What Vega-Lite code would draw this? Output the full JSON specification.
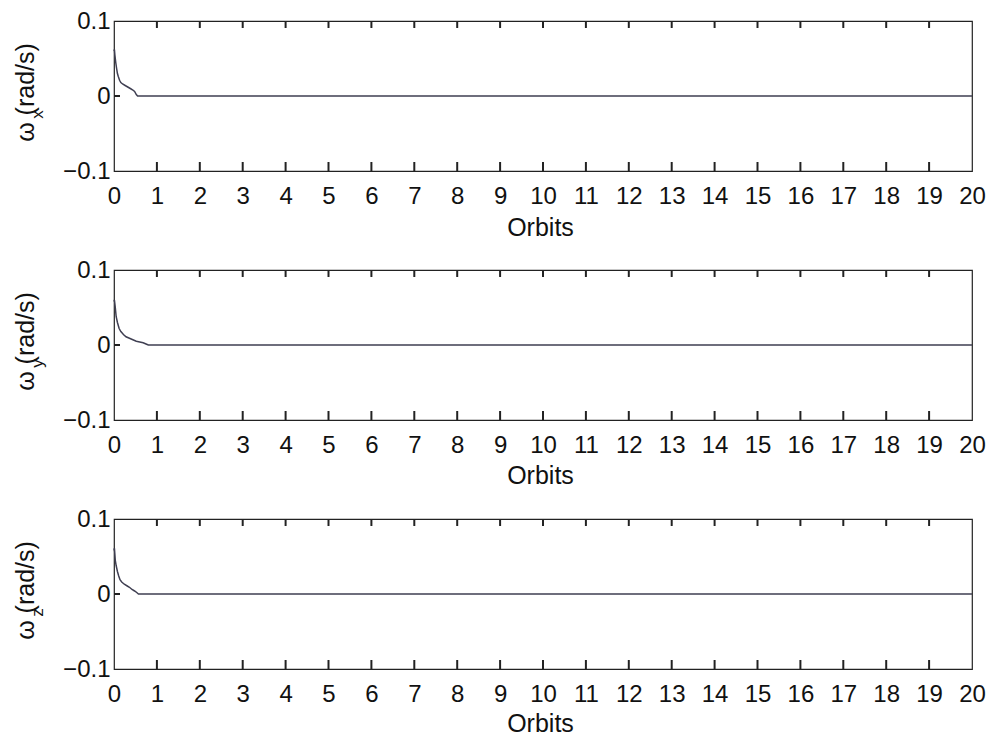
{
  "$schema": "https://vega.github.io/schema/vega-lite/v6.json",
  "background": "white",
  "padding": {"left": 12, "top": 8, "right": 5, "bottom": 2},
  "spacing": 99,
  "bounds": "flush",
  "config": {
    "view": {"stroke": "#222222", "strokeWidth": 1.2},
    "font": "Liberation Sans",
    "rule": {"color": "#222222", "strokeWidth": 2, "opacity": 1},
    "title": {"font": "Liberation Sans", "fontSize": 17, "fontWeight": "normal", "color": "#111111"},
    "axis": {
      "grid": false,
      "domain": false,
      "ticks": false,
      "labelFont": "Liberation Sans",
      "titleFont": "Liberation Sans",
      "labelColor": "#111111",
      "titleColor": "#111111",
      "labelFontSize": 24,
      "titleFontSize": 25,
      "titleFontWeight": "normal"
    }
  },
  "datasets": {
    "xt": [
      {"orbit": 1}, {"orbit": 2}, {"orbit": 3}, {"orbit": 4}, {"orbit": 5}, {"orbit": 6}, {"orbit": 7},
      {"orbit": 8}, {"orbit": 9}, {"orbit": 10}, {"orbit": 11}, {"orbit": 12}, {"orbit": 13},
      {"orbit": 14}, {"orbit": 15}, {"orbit": 16}, {"orbit": 17}, {"orbit": 18}, {"orbit": 19}
    ],
    "yt": [{"w": 0}],
    "wx": [
      {"orbit": 0, "w": 0.060}, {"orbit": 0.01, "w": 0.062}, {"orbit": 0.02, "w": 0.055},
      {"orbit": 0.04, "w": 0.045}, {"orbit": 0.06, "w": 0.037}, {"orbit": 0.08, "w": 0.030},
      {"orbit": 0.10, "w": 0.026}, {"orbit": 0.13, "w": 0.021}, {"orbit": 0.16, "w": 0.018},
      {"orbit": 0.20, "w": 0.016}, {"orbit": 0.26, "w": 0.014}, {"orbit": 0.32, "w": 0.012},
      {"orbit": 0.38, "w": 0.010}, {"orbit": 0.44, "w": 0.008}, {"orbit": 0.48, "w": 0.006},
      {"orbit": 0.52, "w": 0.002}, {"orbit": 0.55, "w": 0}, {"orbit": 20, "w": 0}
    ],
    "wy": [
      {"orbit": 0, "w": 0.058}, {"orbit": 0.01, "w": 0.060}, {"orbit": 0.03, "w": 0.050},
      {"orbit": 0.05, "w": 0.038}, {"orbit": 0.08, "w": 0.030}, {"orbit": 0.12, "w": 0.022},
      {"orbit": 0.16, "w": 0.018}, {"orbit": 0.22, "w": 0.014}, {"orbit": 0.28, "w": 0.011},
      {"orbit": 0.36, "w": 0.009}, {"orbit": 0.44, "w": 0.007}, {"orbit": 0.52, "w": 0.005},
      {"orbit": 0.60, "w": 0.004}, {"orbit": 0.68, "w": 0.003}, {"orbit": 0.76, "w": 0.001},
      {"orbit": 0.80, "w": 0}, {"orbit": 20, "w": 0}
    ],
    "wz": [
      {"orbit": 0, "w": 0.058}, {"orbit": 0.01, "w": 0.061}, {"orbit": 0.03, "w": 0.045},
      {"orbit": 0.05, "w": 0.038}, {"orbit": 0.08, "w": 0.030}, {"orbit": 0.11, "w": 0.024},
      {"orbit": 0.14, "w": 0.019}, {"orbit": 0.18, "w": 0.016}, {"orbit": 0.24, "w": 0.013},
      {"orbit": 0.30, "w": 0.011}, {"orbit": 0.36, "w": 0.009}, {"orbit": 0.42, "w": 0.006},
      {"orbit": 0.48, "w": 0.004}, {"orbit": 0.53, "w": 0.002}, {"orbit": 0.57, "w": 0},
      {"orbit": 20, "w": 0}
    ]
  },
  "vconcat": [
    {
      "width": 858, "height": 150,
      "title": {"text": "x", "orient": "top", "anchor": "start", "frame": "group", "offset": 0, "angle": -90, "align": "center", "baseline": "middle", "dx": -114, "dy": -76},
      "data": {"name": "wx"},
      "layer": [
        {
          "mark": {"type": "line", "color": "#3f3f52", "strokeWidth": 1.5},
          "encoding": {
            "x": {"field": "orbit", "type": "quantitative", "scale": {"domain": [0, 20], "nice": false},
              "axis": {"orient": "bottom", "values": [0,1,2,3,4,5,6,7,8,9,10,11,12,13,14,15,16,17,18,19,20], "format": "d",
                "labelPadding": 32, "labelBaseline": "alphabetic", "labelFlush": false,
                "title": "Orbits", "titleBaseline": "alphabetic", "titleAlign": "center", "titleX": 426, "titleY": 64}},
            "y": {"field": "w", "type": "quantitative", "scale": {"domain": [-0.1, 0.1], "nice": false},
              "axis": {"orient": "left", "values": [-0.1, 0, 0.1], "format": "~g",
                "labelPadding": 4, "labelBaseline": "middle", "labelFlush": false,
                "title": "ω (rad/s)", "titleAngle": -90, "titleX": -89, "titleY": 71, "titleAlign": "center", "titleBaseline": "middle"}}
          }
        },
        {
          "data": {"name": "xt"},
          "mark": {"type": "rule"},
          "encoding": {
            "x": {"field": "orbit", "type": "quantitative"},
            "y": {"datum": 0.1, "type": "quantitative"},
            "y2": {"datum": 0.0907}
          }
        },
        {
          "data": {"name": "xt"},
          "mark": {"type": "rule"},
          "encoding": {
            "x": {"field": "orbit", "type": "quantitative"},
            "y": {"datum": -0.1, "type": "quantitative"},
            "y2": {"datum": -0.088}
          }
        },
        {
          "data": {"name": "yt"},
          "mark": {"type": "rule"},
          "encoding": {
            "x": {"datum": 0, "type": "quantitative"},
            "x2": {"datum": 0.14},
            "y": {"field": "w", "type": "quantitative"}
          }
        }
      ]
    },
    {
      "width": 858, "height": 150,
      "title": {"text": "y", "orient": "top", "anchor": "start", "frame": "group", "offset": 0, "angle": -90, "align": "center", "baseline": "middle", "dx": -114, "dy": -76},
      "data": {"name": "wy"},
      "layer": [
        {
          "mark": {"type": "line", "color": "#3f3f52", "strokeWidth": 1.5},
          "encoding": {
            "x": {"field": "orbit", "type": "quantitative", "scale": {"domain": [0, 20], "nice": false},
              "axis": {"orient": "bottom", "values": [0,1,2,3,4,5,6,7,8,9,10,11,12,13,14,15,16,17,18,19,20], "format": "d",
                "labelPadding": 32, "labelBaseline": "alphabetic", "labelFlush": false,
                "title": "Orbits", "titleBaseline": "alphabetic", "titleAlign": "center", "titleX": 426, "titleY": 63}},
            "y": {"field": "w", "type": "quantitative", "scale": {"domain": [-0.1, 0.1], "nice": false},
              "axis": {"orient": "left", "values": [-0.1, 0, 0.1], "format": "~g",
                "labelPadding": 4, "labelBaseline": "middle", "labelFlush": false,
                "title": "ω (rad/s)", "titleAngle": -90, "titleX": -89, "titleY": 71, "titleAlign": "center", "titleBaseline": "middle"}}
          }
        },
        {
          "data": {"name": "xt"},
          "mark": {"type": "rule"},
          "encoding": {
            "x": {"field": "orbit", "type": "quantitative"},
            "y": {"datum": 0.1, "type": "quantitative"},
            "y2": {"datum": 0.0907}
          }
        },
        {
          "data": {"name": "xt"},
          "mark": {"type": "rule"},
          "encoding": {
            "x": {"field": "orbit", "type": "quantitative"},
            "y": {"datum": -0.1, "type": "quantitative"},
            "y2": {"datum": -0.088}
          }
        },
        {
          "data": {"name": "yt"},
          "mark": {"type": "rule"},
          "encoding": {
            "x": {"datum": 0, "type": "quantitative"},
            "x2": {"datum": 0.14},
            "y": {"field": "w", "type": "quantitative"}
          }
        }
      ]
    },
    {
      "width": 858, "height": 150,
      "title": {"text": "z", "orient": "top", "anchor": "start", "frame": "group", "offset": 0, "angle": -90, "align": "center", "baseline": "middle", "dx": -114, "dy": -76},
      "data": {"name": "wz"},
      "layer": [
        {
          "mark": {"type": "line", "color": "#3f3f52", "strokeWidth": 1.5},
          "encoding": {
            "x": {"field": "orbit", "type": "quantitative", "scale": {"domain": [0, 20], "nice": false},
              "axis": {"orient": "bottom", "values": [0,1,2,3,4,5,6,7,8,9,10,11,12,13,14,15,16,17,18,19,20], "format": "d",
                "labelPadding": 32, "labelBaseline": "alphabetic", "labelFlush": false,
                "title": "Orbits", "titleBaseline": "alphabetic", "titleAlign": "center", "titleX": 426, "titleY": 62}},
            "y": {"field": "w", "type": "quantitative", "scale": {"domain": [-0.1, 0.1], "nice": false},
              "axis": {"orient": "left", "values": [-0.1, 0, 0.1], "format": "~g",
                "labelPadding": 4, "labelBaseline": "middle", "labelFlush": false,
                "title": "ω (rad/s)", "titleAngle": -90, "titleX": -89, "titleY": 71, "titleAlign": "center", "titleBaseline": "middle"}}
          }
        },
        {
          "data": {"name": "xt"},
          "mark": {"type": "rule"},
          "encoding": {
            "x": {"field": "orbit", "type": "quantitative"},
            "y": {"datum": 0.1, "type": "quantitative"},
            "y2": {"datum": 0.0907}
          }
        },
        {
          "data": {"name": "xt"},
          "mark": {"type": "rule"},
          "encoding": {
            "x": {"field": "orbit", "type": "quantitative"},
            "y": {"datum": -0.1, "type": "quantitative"},
            "y2": {"datum": -0.088}
          }
        },
        {
          "data": {"name": "yt"},
          "mark": {"type": "rule"},
          "encoding": {
            "x": {"datum": 0, "type": "quantitative"},
            "x2": {"datum": 0.14},
            "y": {"field": "w", "type": "quantitative"}
          }
        }
      ]
    }
  ]
}
